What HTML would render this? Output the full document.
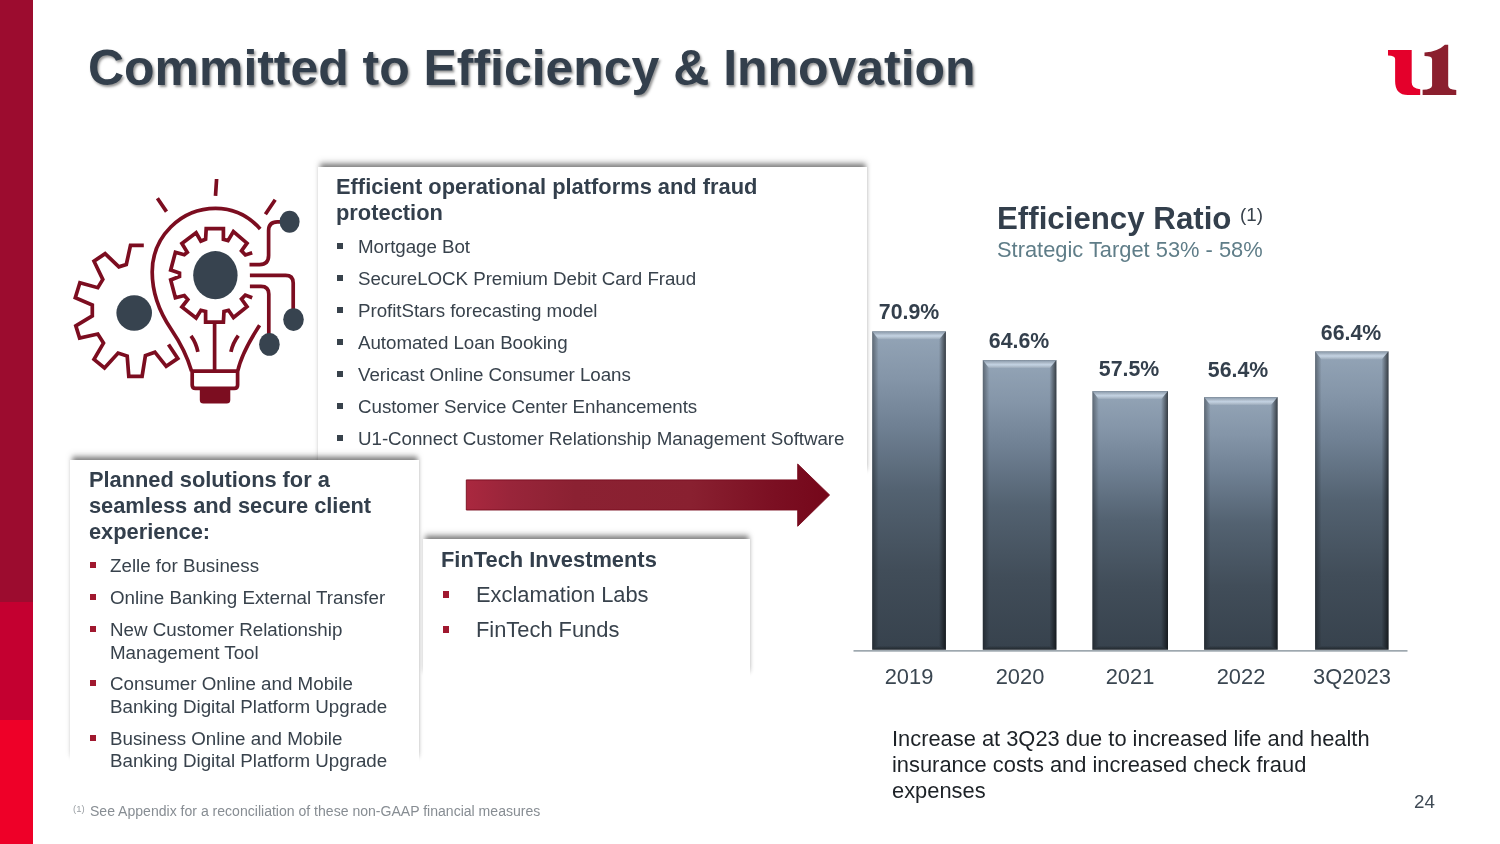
<!DOCTYPE html>
<html lang="en"><head><meta charset="utf-8"><title>Committed to Efficiency &amp; Innovation</title>
<style>
html,body{margin:0;padding:0;}
body{width:1500px;height:844px;overflow:hidden;background:#fff;position:relative;font-family:"Liberation Sans",sans-serif;}
.t{position:absolute;white-space:nowrap;margin:0;padding:0;will-change:transform;}
.sq{position:absolute;}
.abs{position:absolute;}
.bx{position:absolute;background:#fff;box-shadow:0 -4.5px 5px -1.5px rgba(0,0,0,.46),0 -7px 7px -1px rgba(0,0,0,.1);}
</style></head><body>
<div class="abs" style="left:0;top:0;width:33px;height:602px;background:#9c0c2f"></div>
<div class="abs" style="left:0;top:602px;width:33px;height:118px;background:#c40030"></div>
<div class="abs" style="left:0;top:720px;width:33px;height:124px;background:#ee0028"></div>
<div class="t" style="left:87.80px;top:38.08px;font-size:50px;line-height:60.0px;font-weight:bold;color:#333f4c;text-shadow:1.6px 1.8px 2.6px rgba(0,0,0,.42);letter-spacing:-0.04px;">Committed to Efficiency &amp; Innovation</div>
<svg class="abs" style="left:1370px;top:30px" width="100" height="80" viewBox="0 0 1055 844">
<path fill="#e4002b" d="M190,210 L440,210 L440,555 Q440,622 530,625 L530,685 L400,685 Q265,685 265,540 L265,305 Q265,272 190,270 Z"/>
<path fill="#8b1f2e" d="M575,238 Q720,225 790,155 L825,155 L825,585 Q825,628 910,632 L910,685 L555,685 L555,630 Q655,628 655,585 L655,310 Q655,275 575,275 Z"/>
</svg>
<div class="bx" style="left:318px;top:167px;width:548.5px;height:309px"></div>
<div class="t" style="left:336.00px;top:173.80px;font-size:21.875px;line-height:26.25px;font-weight:bold;color:#333f4c;">Efficient operational platforms and fraud</div>
<div class="t" style="left:336.00px;top:199.80px;font-size:21.875px;line-height:26.25px;font-weight:bold;color:#333f4c;">protection</div>
<div class="sq" style="left:337.30px;top:243.20px;width:5.8px;height:5.8px;background:#38424c"></div>
<div class="t" style="left:357.60px;top:235.75px;font-size:18.75px;line-height:22.5px;font-weight:normal;color:#38424c;letter-spacing:-0.045px;">Mortgage Bot</div>
<div class="sq" style="left:337.30px;top:275.20px;width:5.8px;height:5.8px;background:#38424c"></div>
<div class="t" style="left:357.60px;top:267.75px;font-size:18.75px;line-height:22.5px;font-weight:normal;color:#38424c;letter-spacing:-0.045px;">SecureLOCK Premium Debit Card Fraud</div>
<div class="sq" style="left:337.30px;top:307.20px;width:5.8px;height:5.8px;background:#38424c"></div>
<div class="t" style="left:357.60px;top:299.75px;font-size:18.75px;line-height:22.5px;font-weight:normal;color:#38424c;letter-spacing:-0.045px;">ProfitStars forecasting model</div>
<div class="sq" style="left:337.30px;top:339.20px;width:5.8px;height:5.8px;background:#38424c"></div>
<div class="t" style="left:357.60px;top:331.75px;font-size:18.75px;line-height:22.5px;font-weight:normal;color:#38424c;letter-spacing:-0.045px;">Automated Loan Booking</div>
<div class="sq" style="left:337.30px;top:371.20px;width:5.8px;height:5.8px;background:#38424c"></div>
<div class="t" style="left:357.60px;top:363.75px;font-size:18.75px;line-height:22.5px;font-weight:normal;color:#38424c;letter-spacing:-0.045px;">Vericast Online Consumer Loans</div>
<div class="sq" style="left:337.30px;top:403.20px;width:5.8px;height:5.8px;background:#38424c"></div>
<div class="t" style="left:357.60px;top:395.75px;font-size:18.75px;line-height:22.5px;font-weight:normal;color:#38424c;letter-spacing:-0.045px;">Customer Service Center Enhancements</div>
<div class="sq" style="left:337.30px;top:435.20px;width:5.8px;height:5.8px;background:#38424c"></div>
<div class="t" style="left:357.60px;top:427.75px;font-size:18.75px;line-height:22.5px;font-weight:normal;color:#38424c;letter-spacing:-0.045px;">U1-Connect Customer Relationship Management Software</div>
<div class="bx" style="left:422.7px;top:539px;width:327.3px;height:139px"></div>
<div class="t" style="left:441.30px;top:546.80px;font-size:21.875px;line-height:26.25px;font-weight:bold;color:#333f4c;">FinTech Investments</div>
<div class="sq" style="left:442.50px;top:590.90px;width:6.8px;height:6.8px;background:#a0182f"></div>
<div class="t" style="left:476.10px;top:581.80px;font-size:21.875px;line-height:26.25px;font-weight:normal;color:#38424c;">Exclamation Labs</div>
<div class="sq" style="left:442.50px;top:625.90px;width:6.8px;height:6.8px;background:#a0182f"></div>
<div class="t" style="left:476.10px;top:616.80px;font-size:21.875px;line-height:26.25px;font-weight:normal;color:#38424c;">FinTech Funds</div>
<div class="bx" style="left:70px;top:460px;width:349px;height:303px"></div>
<div class="t" style="left:88.50px;top:466.80px;font-size:21.875px;line-height:26.25px;font-weight:bold;color:#333f4c;letter-spacing:-0.04px;">Planned solutions for a</div>
<div class="t" style="left:88.50px;top:492.80px;font-size:21.875px;line-height:26.25px;font-weight:bold;color:#333f4c;letter-spacing:-0.04px;">seamless and secure client</div>
<div class="t" style="left:88.50px;top:518.80px;font-size:21.875px;line-height:26.25px;font-weight:bold;color:#333f4c;letter-spacing:-0.04px;">experience:</div>
<div class="sq" style="left:90.00px;top:561.90px;width:5.8px;height:5.8px;background:#a0182f"></div>
<div class="t" style="left:110.00px;top:554.75px;font-size:18.75px;line-height:22.5px;font-weight:normal;color:#38424c;">Zelle for Business</div>
<div class="sq" style="left:90.00px;top:593.90px;width:5.8px;height:5.8px;background:#a0182f"></div>
<div class="t" style="left:110.00px;top:586.75px;font-size:18.75px;line-height:22.5px;font-weight:normal;color:#38424c;">Online Banking External Transfer</div>
<div class="sq" style="left:90.00px;top:625.90px;width:5.8px;height:5.8px;background:#a0182f"></div>
<div class="t" style="left:110.00px;top:618.75px;font-size:18.75px;line-height:22.5px;font-weight:normal;color:#38424c;">New Customer Relationship</div>
<div class="t" style="left:110.00px;top:641.75px;font-size:18.75px;line-height:22.5px;font-weight:normal;color:#38424c;">Management Tool</div>
<div class="sq" style="left:90.00px;top:679.90px;width:5.8px;height:5.8px;background:#a0182f"></div>
<div class="t" style="left:110.00px;top:672.75px;font-size:18.75px;line-height:22.5px;font-weight:normal;color:#38424c;">Consumer Online and Mobile</div>
<div class="t" style="left:110.00px;top:695.75px;font-size:18.75px;line-height:22.5px;font-weight:normal;color:#38424c;">Banking Digital Platform Upgrade</div>
<div class="sq" style="left:90.00px;top:734.90px;width:5.8px;height:5.8px;background:#a0182f"></div>
<div class="t" style="left:110.00px;top:727.75px;font-size:18.75px;line-height:22.5px;font-weight:normal;color:#38424c;">Business Online and Mobile</div>
<div class="t" style="left:110.00px;top:749.75px;font-size:18.75px;line-height:22.5px;font-weight:normal;color:#38424c;">Banking Digital Platform Upgrade</div>
<svg class="abs" style="left:460px;top:455px" width="380" height="80" viewBox="460 455 380 80">
<defs><linearGradient id="ag" x1="0" x2="1" y1="0" y2="0"><stop offset="0" stop-color="#aa283f"/><stop offset=".12" stop-color="#99253a"/><stop offset=".3" stop-color="#8b2132"/><stop offset=".62" stop-color="#892030"/><stop offset=".85" stop-color="#7b0f22"/><stop offset="1" stop-color="#75071a"/></linearGradient></defs>
<path fill="url(#ag)" stroke="#780b1e" stroke-width="0.9" stroke-linejoin="miter" d="M466.3,479.9 L797.7,479.9 L797.7,464 L829.6,495 L797.7,526.3 L797.7,510 L466.3,510 Z"/>
</svg>
<div class="t" style="left:997.00px;top:199.92px;font-size:31.25px;line-height:37.5px;font-weight:bold;color:#333f4c;">Efficiency Ratio</div>
<div class="t" style="left:1240.20px;top:203.75px;font-size:18.75px;line-height:22.5px;font-weight:normal;color:#38424c;">(1)</div>
<div class="t" style="left:997.00px;top:236.80px;font-size:21.875px;line-height:26.25px;font-weight:normal;color:#5f7d88;">Strategic Target 53% - 58%</div>
<svg class="abs" style="left:840px;top:300px" width="600" height="360" viewBox="840 300 600 360">
<defs><linearGradient id="bg" x1="0" x2="0" y1="0" y2="1"><stop offset="0" stop-color="#94a5b7"/><stop offset=".15" stop-color="#8495a8"/><stop offset=".3" stop-color="#6f8093"/><stop offset=".5" stop-color="#536271"/><stop offset=".75" stop-color="#414d59"/><stop offset="1" stop-color="#37424d"/></linearGradient>
<linearGradient id="bt" x1="0" x2="0" y1="0" y2="1"><stop offset="0" stop-color="#000" stop-opacity=".2"/><stop offset=".22" stop-color="#fff" stop-opacity=".08"/><stop offset=".55" stop-color="#e0efff" stop-opacity=".62"/><stop offset="1" stop-color="#fff" stop-opacity="0"/></linearGradient>
<linearGradient id="bl" x1="0" x2="1" y1="0" y2="0"><stop offset="0" stop-color="#000" stop-opacity=".36"/><stop offset="1" stop-color="#000" stop-opacity="0"/></linearGradient>
<linearGradient id="br" x1="0" x2="1" y1="0" y2="0"><stop offset="0" stop-color="#000" stop-opacity="0"/><stop offset="1" stop-color="#000" stop-opacity=".62"/></linearGradient>
<linearGradient id="bb" x1="0" x2="0" y1="0" y2="1"><stop offset="0" stop-color="#000" stop-opacity="0"/><stop offset="1" stop-color="#000" stop-opacity=".42"/></linearGradient>
</defs>
<rect x="872.2" y="331.2" width="73.7" height="318.5" fill="url(#bg)"/>
<path d="M872.2,331.2 L945.9000000000001,331.2 L938.9,339.7 L878.7,339.7 Z" fill="url(#bt)"/>
<path d="M872.2,331.2 L878.7,339.7 L878.7,645.7 L872.2,649.7 Z" fill="url(#bl)"/>
<path d="M938.9,339.7 L945.9,331.2 L945.9,649.7 L938.9,645.7 Z" fill="url(#br)"/>
<path d="M872.2,649.7 L878.7,645.7 L938.9,645.7 L945.9,649.7 Z" fill="url(#bb)"/>
<rect x="982.8" y="360" width="73.6" height="289.7" fill="url(#bg)"/>
<path d="M982.8,360 L1056.3999999999999,360 L1049.4,368.5 L989.3,368.5 Z" fill="url(#bt)"/>
<path d="M982.8,360 L989.3,368.5 L989.3,645.7 L982.8,649.7 Z" fill="url(#bl)"/>
<path d="M1049.4,368.5 L1056.4,360 L1056.4,649.7 L1049.4,645.7 Z" fill="url(#br)"/>
<path d="M982.8,649.7 L989.3,645.7 L1049.4,645.7 L1056.4,649.7 Z" fill="url(#bb)"/>
<rect x="1092.4" y="391" width="75.6" height="258.7" fill="url(#bg)"/>
<path d="M1092.4,391 L1168.0,391 L1161.0,399.5 L1098.9,399.5 Z" fill="url(#bt)"/>
<path d="M1092.4,391 L1098.9,399.5 L1098.9,645.7 L1092.4,649.7 Z" fill="url(#bl)"/>
<path d="M1161.0,399.5 L1168.0,391 L1168.0,649.7 L1161.0,645.7 Z" fill="url(#br)"/>
<path d="M1092.4,649.7 L1098.9,645.7 L1161.0,645.7 L1168.0,649.7 Z" fill="url(#bb)"/>
<rect x="1204.1" y="397" width="73.5" height="252.7" fill="url(#bg)"/>
<path d="M1204.1,397 L1277.6,397 L1270.6,405.5 L1210.6,405.5 Z" fill="url(#bt)"/>
<path d="M1204.1,397 L1210.6,405.5 L1210.6,645.7 L1204.1,649.7 Z" fill="url(#bl)"/>
<path d="M1270.6,405.5 L1277.6,397 L1277.6,649.7 L1270.6,645.7 Z" fill="url(#br)"/>
<path d="M1204.1,649.7 L1210.6,645.7 L1270.6,645.7 L1277.6,649.7 Z" fill="url(#bb)"/>
<rect x="1315.1" y="351.3" width="73.4" height="298.4" fill="url(#bg)"/>
<path d="M1315.1,351.3 L1388.5,351.3 L1381.5,359.8 L1321.6,359.8 Z" fill="url(#bt)"/>
<path d="M1315.1,351.3 L1321.6,359.8 L1321.6,645.7 L1315.1,649.7 Z" fill="url(#bl)"/>
<path d="M1381.5,359.8 L1388.5,351.3 L1388.5,649.7 L1381.5,645.7 Z" fill="url(#br)"/>
<path d="M1315.1,649.7 L1321.6,645.7 L1381.5,645.7 L1388.5,649.7 Z" fill="url(#bb)"/>
<rect x="853.5" y="650.3" width="554" height="1.2" fill="#76848e"/>
</svg>
<div class="t" style="left:709.00px;width:400px;text-align:center;top:299.74px;font-size:21.3px;line-height:25.56px;font-weight:bold;color:#333f4c;">70.9%</div>
<div class="t" style="left:708.60px;width:400px;text-align:center;top:663.80px;font-size:21.875px;line-height:26.25px;font-weight:normal;color:#3a4651;">2019</div>
<div class="t" style="left:819.00px;width:400px;text-align:center;top:328.74px;font-size:21.3px;line-height:25.56px;font-weight:bold;color:#333f4c;">64.6%</div>
<div class="t" style="left:819.60px;width:400px;text-align:center;top:663.80px;font-size:21.875px;line-height:26.25px;font-weight:normal;color:#3a4651;">2020</div>
<div class="t" style="left:928.80px;width:400px;text-align:center;top:356.74px;font-size:21.3px;line-height:25.56px;font-weight:bold;color:#333f4c;">57.5%</div>
<div class="t" style="left:929.50px;width:400px;text-align:center;top:663.80px;font-size:21.875px;line-height:26.25px;font-weight:normal;color:#3a4651;">2021</div>
<div class="t" style="left:1038.00px;width:400px;text-align:center;top:357.74px;font-size:21.3px;line-height:25.56px;font-weight:bold;color:#333f4c;">56.4%</div>
<div class="t" style="left:1041.00px;width:400px;text-align:center;top:663.80px;font-size:21.875px;line-height:26.25px;font-weight:normal;color:#3a4651;">2022</div>
<div class="t" style="left:1151.00px;width:400px;text-align:center;top:320.74px;font-size:21.3px;line-height:25.56px;font-weight:bold;color:#333f4c;">66.4%</div>
<div class="t" style="left:1152.00px;width:400px;text-align:center;top:663.80px;font-size:21.875px;line-height:26.25px;font-weight:normal;color:#3a4651;">3Q2023</div>
<div class="t" style="left:892.20px;top:725.80px;font-size:21.875px;line-height:26.25px;font-weight:normal;color:#1d2227;">Increase at 3Q23 due to increased life and health</div>
<div class="t" style="left:892.20px;top:751.80px;font-size:21.875px;line-height:26.25px;font-weight:normal;color:#1d2227;">insurance costs and increased check fraud</div>
<div class="t" style="left:892.20px;top:777.80px;font-size:21.875px;line-height:26.25px;font-weight:normal;color:#1d2227;">expenses</div>
<div class="t" style="left:1413.50px;top:790.75px;font-size:18.75px;line-height:22.5px;font-weight:normal;color:#3f4a55;">24</div>
<div class="t" style="left:72.50px;top:803.11px;font-size:9.5px;line-height:11.4px;font-weight:normal;color:#9ba0a5;">(1)</div>
<div class="t" style="left:90.00px;top:802.99px;font-size:14.0625px;line-height:16.875px;font-weight:normal;color:#878d93;">See Appendix for a reconciliation of these non-GAAP financial measures</div>
<svg class="abs" style="left:60px;top:170px" width="260" height="245" viewBox="60 170 260 245">
<g fill="none" stroke="#7c0d20" stroke-width="3.7" stroke-linejoin="miter" stroke-miterlimit="10">
<path d="M143.8,245.4 L130.5,245.4 L126.3,264.5 L118.9,266.8 L105.1,253.6 L94.0,261.2 L102.8,279.5 L97.8,287.7 L79.9,282.8 L75.3,297.7 L92.3,305.0 L92.3,315.9 L75.8,325.8 L79.6,338.1 L97.8,334.0 L103.5,343.1 L94.0,359.4 L104.5,368.0 L118.1,353.1 L127.2,356.1 L128.8,376.3 L142.1,376.3 L145.4,355.6 L154.9,352.2 L166.2,366.3 L177.8,358.4 L168.5,344.5"/>
<path d="M252.2,252.8 L245.4,255.0 L241.5,250.8 L247.0,243.2 L233.4,231.6 L228.0,240.6 L223.4,239.3 L223.4,228.6 L206.2,228.6 L205.6,239.3 L200.9,241.1 L196.1,232.8 L181.9,243.4 L187.3,252.3 L184.3,254.7 L175.4,252.3 L170.7,270.1 L179.5,273.1 L179.5,276.6 L170.7,280.0 L175.4,297.8 L184.3,295.5 L187.8,299.5 L181.9,307.0 L196.1,318.0 L200.9,310.3 L205.6,311.5 L205.6,322.1 L223.4,322.1 L224.0,311.5 L228.5,310.3 L233.5,317.5 L247.0,306.7 L241.5,299.0 L245.3,295.1 L252.2,297.8"/>
<path d="M260.2,229 A61,63.6 0 0 0 215.6,208.4 A63.4,63.6 0 0 0 152.2,272 C152.2,296 161.5,315 171,329 C180.5,343 187.5,357 191.6,371.2"/>
<path d="M259.6,325.3 C250,340 241,356 237.7,371.2"/>
<path d="M157.4,198.2 L166.5,211.6 M216.6,179 L215.5,195.8 M275.2,199.8 L265.4,214.2"/>
<path d="M214.6,322.1 L214.6,371.2"/>
<path d="M191.0,335.8 Q196.2,343 197.9,351.9 M238.3,335.6 Q232.8,343 230.9,351.9"/>
<path d="M190.3,371.2 L239,371.2 M192.2,371.2 L192.2,385 Q192.2,388.4 195.6,388.4 L234.2,388.4 Q237.6,388.4 237.6,385 L237.6,371.2"/>
<path d="M249.5,264.6 L259.6,264.6 Q268.6,264.6 268.6,255.6 L268.6,230.6 Q268.6,221.8 277.4,221.8 L282,221.8"/>
<path d="M249.9,275.4 L285.6,275.4 Q293.2,275.4 293.2,283 L293.2,310"/>
<path d="M249.9,286.3 L261,286.3 Q268.8,286.3 268.8,294.1 L268.8,335"/>
</g>
<path fill="#7c0d20" d="M199.8,388.4 L230.3,388.4 L230.3,400 Q230.3,403.6 226.7,403.6 L203.4,403.6 Q199.8,403.6 199.8,400 Z"/>
<circle cx="134.2" cy="313" r="17.8" fill="#37434f"/>
<ellipse cx="215.4" cy="275.2" rx="22.2" ry="24.1" fill="#37434f"/>
<ellipse cx="289.6" cy="221.8" rx="10" ry="11" fill="#37434f"/>
<ellipse cx="293.5" cy="319.6" rx="10.3" ry="11.3" fill="#37434f"/>
<ellipse cx="269.4" cy="344.4" rx="10.3" ry="11.4" fill="#37434f"/>
</svg>
</body></html>
